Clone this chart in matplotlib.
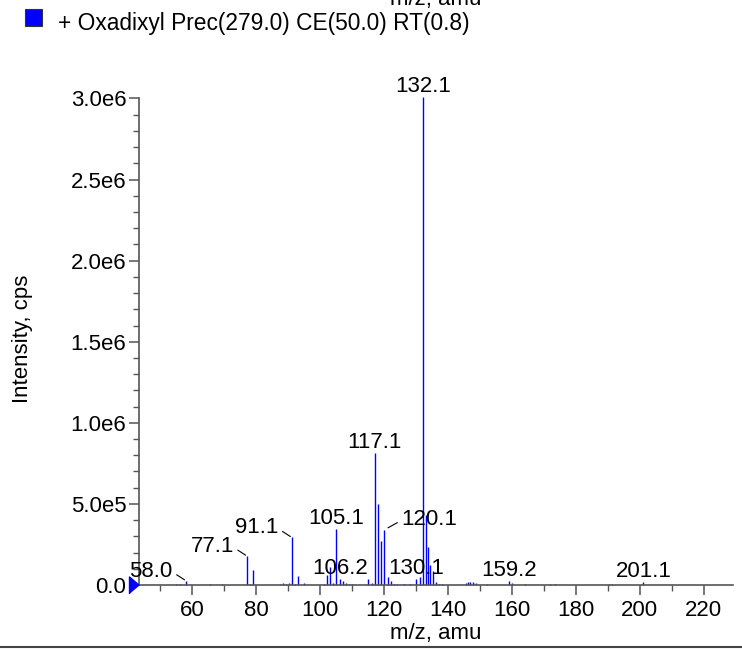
import matplotlib
matplotlib.use("Agg")
import matplotlib.pyplot as plt
from matplotlib.patches import Rectangle
from matplotlib.lines import Line2D
from matplotlib.ticker import MultipleLocator, FuncFormatter

plt.rcParams['font.family'] = ['Liberation Sans', 'DejaVu Sans']

# spectre MS/MS : m/z et intensite (cps)
mz = [55.1, 56.1, 58.0, 65.6, 69.3, 77.1, 78.1, 79.1, 87.6, 88.3, 89.2,
      90.3, 91.1, 92.1, 93.1, 95.1, 101.2, 102.1, 103.1, 104.1, 105.1, 106.2,
      107.1, 108.1, 109.2, 110.1, 115.1, 116.1, 117.1, 118.1, 119.1, 120.1,
      121.1, 122.1, 123.1, 124.2, 126.1, 128.1, 130.1, 131.1, 132.1, 133.1,
      133.8, 134.5, 135.4, 136.4, 137.2, 138.2, 145.6, 146.3, 147.0, 147.8,
      148.6, 152.1, 159.2, 159.9, 164.0, 171.8, 173.4, 190.2, 191.2, 201.1]
intensity = [4e3, 5e3, 27e3, 4e3, 4e3, 179e3, 6e3, 93e3, 6e3, 12e3, 5e3,
             10e3, 294e3, 8e3, 56e3, 12e3, 5e3, 62e3, 111e3, 10e3, 346e3, 37e3,
             25e3, 12e3, 5e3, 4e3, 37e3, 10e3, 815e3, 500e3, 272e3, 340e3,
             51e3, 25e3, 8e3, 5e3, 4e3, 4e3, 37e3, 51e3, 3.01e6, 432e3,
             236e3, 123e3, 88e3, 18e3, 8e3, 5e3, 12e3, 20e3, 18e3, 20e3,
             12e3, 4e3, 27e3, 15e3, 5e3, 5e3, 4e3, 4e3, 4e3, 17e3]

# pics etiquetes
top_labels = [105.1, 106.2, 117.1, 130.1, 132.1, 159.2, 201.1]
left_labels = [58.0, 77.1, 91.1]
right_labels = [120.1]

fig = plt.figure(figsize=(7.42, 6.51), dpi=100)
W, H = 742, 651
ax = fig.add_axes([139 / W, 1 - 585 / H, (733 - 139) / W, (585 - 98.5) / H])

ax.vlines(mz, 0, intensity, colors='#0000ff', lw=1.0, clip_on=False)

ax.set_xlim(43.4, 229.1)
ax.set_ylim(0, 3.0e6)

for s in ['top', 'right']:
    ax.spines[s].set_visible(False)
for s in ['left', 'bottom']:
    ax.spines[s].set_color('#555555')
    ax.spines[s].set_linewidth(1.2)

ax.xaxis.set_major_locator(MultipleLocator(20))
ax.xaxis.set_minor_locator(MultipleLocator(10))
ax.yaxis.set_major_locator(MultipleLocator(5e5))
ax.yaxis.set_minor_locator(MultipleLocator(1e5))


def sci(v, pos):
    if v == 0:
        return "0.0"
    e = 0
    m = v
    while m >= 10:
        m /= 10
        e += 1
    return f"{m:.1f}e{e}"


ax.yaxis.set_major_formatter(FuncFormatter(sci))
ax.tick_params(which='major', length=7, width=1.1, color='#555555',
               labelsize=16, direction='out')
ax.tick_params(which='minor', length=4, width=1.0, color='#555555', direction='out')
ax.tick_params(axis='y', pad=2)
ax.tick_params(axis='x', pad=4)

# etiquettes des pics
lookup = dict(zip(mz, intensity))
for m in top_labels:
    ax.annotate(f"{m:.1f}", (m, lookup[m]), xytext=(0, 5), textcoords='offset pixels',
                ha='center', va='baseline', fontsize=16, annotation_clip=False)
for m in left_labels:
    ax.annotate(f"{m:.1f}", (m, lookup[m]), xytext=(-13, 4), textcoords='offset pixels',
                ha='right', va='baseline', fontsize=16,
                arrowprops=dict(arrowstyle='-', color='black', lw=0.8,
                                shrinkA=1, shrinkB=1, relpos=(1.0, 0.45)))
for m in right_labels:
    ax.annotate(f"{m:.1f}", (m, lookup[m]), xytext=(17, 5), textcoords='offset pixels',
                ha='left', va='baseline', fontsize=16,
                arrowprops=dict(arrowstyle='-', color='black', lw=0.8,
                                shrinkA=1, shrinkB=3, relpos=(0.0, 0.45)))

# triangle bleu sur l'axe
ax.plot([0], [0], marker=[(-1.18, -1), (-1.18, 1), (0, 0)], ms=14.4,
        color='#0000ff', transform=ax.get_yaxis_transform(), clip_on=False, zorder=5)

# titres des axes
fig.text(436 / W, 1 - 639 / H, "m/z, amu", ha='center', va='baseline', fontsize=16)
fig.text(436 / W, 1 - 5 / H, "m/z, amu", ha='center', va='baseline', fontsize=16)
fig.text(33 / W, 1 - 339 / H, "Intensity, cps", rotation=90, ha='right', va='center',
         fontsize=16)

# legende
fig.add_artist(Rectangle((25 / W, 1 - 26 / H), 17 / W, 17 / H, facecolor='#0000ff',
                         edgecolor='#333333', lw=0.8, transform=fig.transFigure))
fig.text(58 / W, 1 - 30 / H, "+ Oxadixyl Prec(279.0) CE(50.0) RT(0.8)",
         ha='left', va='baseline', fontsize=16.4)

# ligne du bas
fig.add_artist(Line2D([0, 1], [1 - 647 / H, 1 - 647 / H], color='#444444', lw=1.5,
                      transform=fig.transFigure))

fig.savefig("out.png", dpi=100)
